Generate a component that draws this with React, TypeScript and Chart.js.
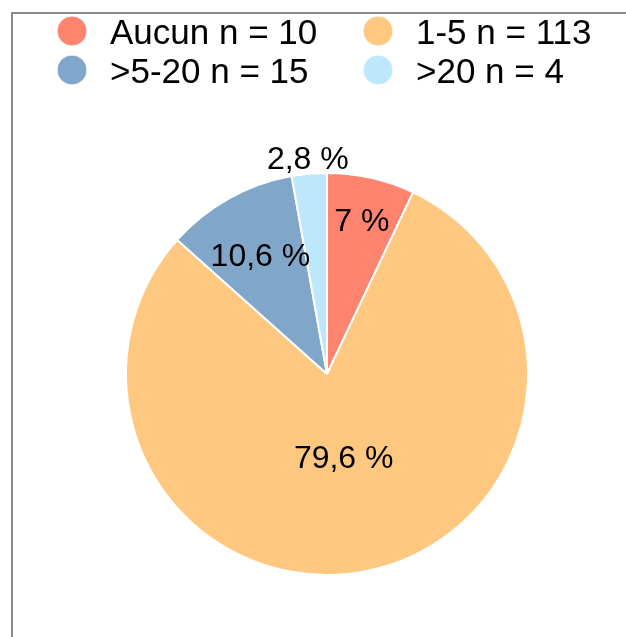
import React, { useEffect, useRef } from "react";
import { Chart, registerables } from "chart.js";

Chart.register(...registerables);

// ---- data ----
const categories = ["Aucun", "1-5", ">5-20", ">20"];
const counts = [10, 113, 15, 4];
const colors = ["#FF8470", "#FFC880", "#80A7C9", "#BDE8FC"];

// ---- style / layout settings ----
const FONT = "'Liberation Sans', Arial, Helvetica, sans-serif";
const LEGEND_FONT_SIZE = 35;
const LABEL_FONT_SIZE = 32;
const labelRadiusFactors = [0.79, 0.42, 0.68, 1.08];
const legendColumnsX = [72, 378];
const legendRowsY = [31, 70];
const legendMarkerRadius = 15;
const legendTextGap = 38;

const total = counts.reduce((a, b) => a + b, 0);
const pctText = (v: number) => {
  const p = (v / total) * 100;
  let s = p.toFixed(1);
  if (s.endsWith(".0")) s = s.slice(0, -2);
  return s.replace(".", ",") + " %";
};

const legendPlugin = {
  id: "gridLegend",
  afterDraw(chart: any) {
    const ctx = chart.ctx;
    ctx.save();
    ctx.font = `${LEGEND_FONT_SIZE}px ${FONT}`;
    ctx.textAlign = "left";
    ctx.textBaseline = "alphabetic";
    categories.forEach((cat, i) => {
      const col = i % 2;
      const row = Math.floor(i / 2);
      const cx = legendColumnsX[col];
      const cy = legendRowsY[row];
      ctx.beginPath();
      ctx.arc(cx, cy, legendMarkerRadius, 0, Math.PI * 2);
      ctx.fillStyle = colors[i];
      ctx.fill();
      ctx.lineWidth = 1;
      ctx.strokeStyle = "rgba(255,255,255,0.9)";
      ctx.stroke();
      ctx.fillStyle = "#000";
      ctx.fillText(`${cat} n = ${counts[i]}`, cx + legendTextGap, cy + LEGEND_FONT_SIZE * 0.716 / 2);
    });
    ctx.restore();
  },
};

const sliceLabelPlugin = {
  id: "sliceLabels",
  afterDatasetsDraw(chart: any) {
    const ctx = chart.ctx;
    const meta = chart.getDatasetMeta(0);
    ctx.save();
    ctx.font = `${LABEL_FONT_SIZE}px ${FONT}`;
    ctx.textAlign = "center";
    ctx.textBaseline = "alphabetic";
    ctx.fillStyle = "#000";
    meta.data.forEach((arc: any, i: number) => {
      const { x, y, startAngle, endAngle, outerRadius } = arc.getProps(
        ["x", "y", "startAngle", "endAngle", "outerRadius"],
        true
      );
      const mid = (startAngle + endAngle) / 2;
      const r = outerRadius * labelRadiusFactors[i];
      const tx = x + Math.cos(mid) * r;
      const ty = y + Math.sin(mid) * r;
      ctx.fillText(pctText(counts[i]), tx, ty + LABEL_FONT_SIZE * 0.716 / 2);
    });
    ctx.restore();
  },
};

export default function App() {
  const canvasRef = useRef<HTMLCanvasElement | null>(null);

  useEffect(() => {
    if (!canvasRef.current) return;
    const chart = new Chart(canvasRef.current, {
      type: "pie",
      data: {
        labels: categories,
        datasets: [
          {
            data: counts,
            backgroundColor: colors,
            borderColor: "#ffffff",
            borderWidth: 2,
            hoverBorderWidth: 2,
          },
        ],
      },
      options: {
        responsive: false,
        animation: false,
        radius: 201,
        layout: { padding: { left: 100, right: 72, top: 130, bottom: 19 } },
        plugins: {
          legend: { display: false },
          tooltip: { enabled: false },
        },
        events: [],
      } as any,
      plugins: [sliceLabelPlugin, legendPlugin],
    });
    return () => chart.destroy();
  }, []);

  return (
    <div
      style={{
        position: "fixed",
        left: 0,
        top: 0,
        width: 626,
        height: 637,
        overflow: "hidden",
        background: "#fff",
      }}
    >
      <div
        style={{
          position: "absolute",
          left: 11,
          top: 12,
          width: 800,
          height: 800,
          borderLeft: "2px solid #8a8a8a",
          borderTop: "2px solid #8a8a8a",
        }}
      />
      <canvas
        ref={canvasRef}
        width={626}
        height={637}
        style={{ position: "absolute", left: 0, top: 0, width: 626, height: 637 }}
      />
    </div>
  );
}
